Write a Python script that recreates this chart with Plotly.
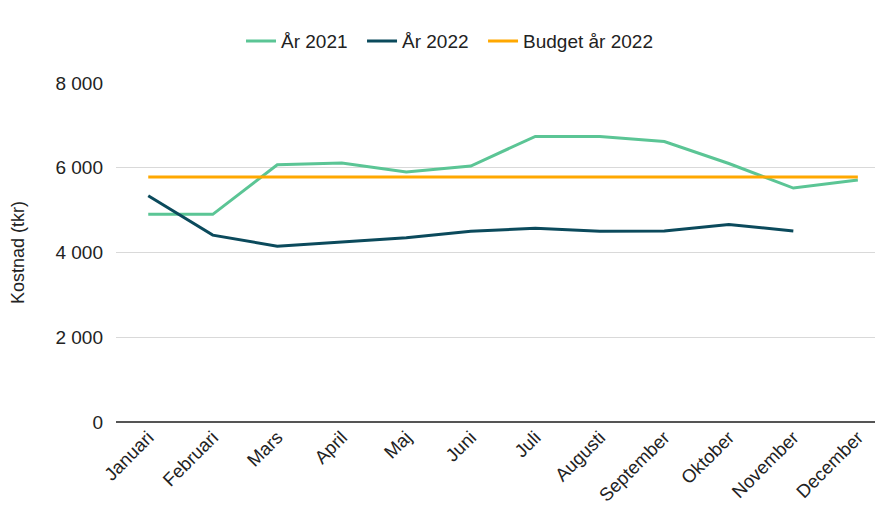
import plotly.graph_objects as go

months = ["Januari", "Februari", "Mars", "April", "Maj", "Juni", "Juli",
          "Augusti", "September", "Oktober", "November", "December"]
ar2021 = [4900, 4900, 6070, 6110, 5900, 6040, 6740, 6740, 6620, 6100, 5520, 5710]
ar2022 = [5340, 4410, 4150, 4250, 4350, 4500, 4570, 4500, 4510, 4660, 4510, None]
budget2022 = [5780] * 12

fig = go.Figure()
fig.add_trace(go.Scatter(x=months, y=ar2021, mode="lines", name="År 2021",
                         line=dict(color="#5BC595", width=3), legend="legend",
                         showlegend=True))
fig.add_trace(go.Scatter(x=months, y=ar2022, mode="lines", name="År 2022",
                         line=dict(color="#0B4A5C", width=3), legend="legend2",
                         showlegend=True))
fig.add_trace(go.Scatter(x=months, y=budget2022, mode="lines", name="Budget år 2022",
                         line=dict(color="#FFA800", width=3), legend="legend3",
                         showlegend=True))

leg = dict(orientation="h", xanchor="left", xref="container",
           y=0.934, yanchor="middle", yref="container",
           font=dict(size=19), itemwidth=30, bgcolor="rgba(0,0,0,0)")

fig.update_layout(
    width=875, height=502,
    showlegend=True,
    margin=dict(l=108, r=0, t=75, b=88),
    paper_bgcolor="white", plot_bgcolor="white",
    font=dict(family="Liberation Sans, Arial, sans-serif", size=18, color="#222222"),
    legend=dict(leg, x=0.2663),
    legend2=dict(leg, x=0.4046),
    legend3=dict(leg, x=0.5429),
    xaxis=dict(type="category", range=[-0.5, 11.39], tickangle=-45, automargin=False,
               tickfont=dict(size=18.5), showgrid=False, showline=False, ticks=""),
    yaxis=dict(range=[0, 8000], tickvals=[0, 2000, 4000, 6000, 8000],
               ticktext=["0", "2 000", "4 000", "6 000", "8 000"], automargin=False,
               tickfont=dict(size=19),
               gridcolor="#D9D9D9", gridwidth=1, zeroline=True, zerolinecolor="#555555",
               zerolinewidth=2, ticks="", ticklabelstandoff=12,
               title=dict(text="Kostnad (tkr)", font=dict(size=18), standoff=30)),
)

fig.write_html("out.html")
